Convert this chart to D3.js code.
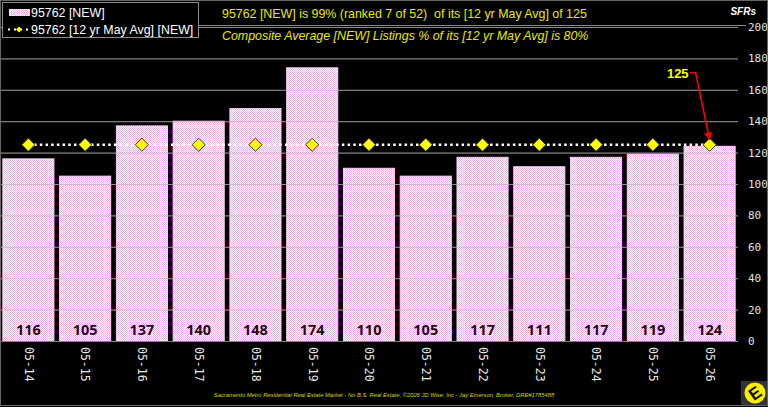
<!DOCTYPE html>
<html>
<head>
<meta charset="utf-8">
<script src="https://cdn.jsdelivr.net/npm/d3@7"></script>
<style>
  body { margin: 0; background: #000; }
  svg { display: block; }
</style>
</head>
<body>
<div id="chart"></div>
<script>
// data
const years = ["05-14", "05-15", "05-16", "05-17", "05-18", "05-19", "05-20",
               "05-21", "05-22", "05-23", "05-24", "05-25", "05-26"];
const listings = [116, 105, 137, 140, 148, 174, 110, 105, 117, 111, 117, 119, 124];
const avgValue = 125;
const yTicks = [0, 20, 40, 60, 80, 100, 120, 140, 160, 180, 200];

const titleText = "95762 [NEW] is 99% (ranked 7 of 52)  of its [12 yr May Avg] of 125";
const subText = "Composite Average [NEW] Listings % of its [12 yr May Avg] is 80%";
const footerText = "Sacramento Metro Residential Real Estate Market - No B.S. Real Estate, \u00A92026 JD Wise, Inc - Jay Emerson, Broker, DRE#1785488";

const W = 768, H = 407;
const svg = d3.select("#chart").append("svg")
    .attr("width", W).attr("height", H);

svg.append("rect").attr("width", W).attr("height", H).attr("fill", "#000");

// checkered pink fill
const defs = svg.append("defs");
const pat = defs.append("pattern")
    .attr("id", "pink").attr("width", 2).attr("height", 2)
    .attr("patternUnits", "userSpaceOnUse");
pat.append("rect").attr("width", 2).attr("height", 2).attr("fill", "#ffffff");
pat.append("rect").attr("width", 1).attr("height", 1).attr("fill", "#f0aef0");
pat.append("rect").attr("x", 1).attr("y", 1).attr("width", 1).attr("height", 1).attr("fill", "#f0aef0");

// scales
const x = d3.scaleBand().domain(years).range([0, 738])
    .paddingInner(0.1).paddingOuter(0.05);
const y = d3.scaleLinear().domain([0, 200]).range([341, 27]);

// grid under bars
svg.append("g").selectAll("line")
    .data(yTicks.slice(1))
    .join("line")
    .attr("x1", 0).attr("x2", 738)
    .attr("y1", d => y(d) + 0.5).attr("y2", d => y(d) + 0.5)
    .attr("stroke", "#808080").attr("stroke-width", 1);

// bars
svg.append("g").selectAll("rect")
    .data(listings)
    .join("rect")
    .attr("x", (d, i) => x(years[i]))
    .attr("width", x.bandwidth())
    .attr("y", d => y(d))
    .attr("height", d => y(0) - y(d))
    .attr("fill", "url(#pink)")
    .attr("stroke", "#f5d0f5").attr("stroke-width", 1);

// faint grid over bars
svg.append("g").selectAll("line")
    .data(yTicks.slice(1))
    .join("line")
    .attr("x1", 0).attr("x2", 738)
    .attr("y1", d => y(d) + 0.5).attr("y2", d => y(d) + 0.5)
    .attr("stroke", "#999").attr("stroke-opacity", 0.45);

// baseline
svg.append("line").attr("x1", 0).attr("x2", 738)
    .attr("y1", y(0) + 0.5).attr("y2", y(0) + 0.5)
    .attr("stroke", "#808080");

// bar value labels
svg.append("g").selectAll("text")
    .data(listings)
    .join("text")
    .attr("x", (d, i) => x(years[i]) + x.bandwidth() / 2)
    .attr("y", 335)
    .attr("text-anchor", "middle")
    .style("font-family", "'Open Sans', 'Liberation Sans', sans-serif")
    .style("font-weight", "bold")
    .style("font-size", "14.5px")
    .attr("fill", "#111")
    .text(d => d);

// right axis
const yAxis = svg.append("g")
    .attr("transform", "translate(738,0)")
    .call(d3.axisRight(y).tickValues(yTicks).tickSize(0).tickPadding(10));
yAxis.select(".domain").remove();
yAxis.selectAll("text")
    .attr("fill", "#e0e0e0")
    .style("font-family", "'DejaVu Sans Mono', monospace")
    .style("font-size", "11px");

// bottom axis, labels rotated
const xAxis = svg.append("g")
    .attr("transform", `translate(0,${y(0)})`)
    .call(d3.axisBottom(x).tickSize(0));
xAxis.select(".domain").remove();
xAxis.selectAll("text")
    .attr("fill", "#e8e8e8")
    .style("font-family", "'DejaVu Sans Mono', monospace")
    .style("font-size", "11.5px")
    .attr("text-anchor", "start")
    .attr("transform", "rotate(90)")
    .attr("x", 6).attr("y", 0).attr("dy", "0.32em");

// average dotted line + diamonds
const cx = i => x(years[i]) + x.bandwidth() / 2;
svg.append("line")
    .attr("x1", cx(0)).attr("x2", cx(years.length - 1))
    .attr("y1", y(avgValue)).attr("y2", y(avgValue))
    .attr("stroke", "#fff").attr("stroke-width", 2.5)
    .attr("stroke-dasharray", "2.5 3.2");

const diamond = d3.symbol().type(d3.symbolDiamond2).size(110);
svg.append("g").selectAll("path")
    .data(years)
    .join("path")
    .attr("transform", (d, i) => `translate(${cx(i)},${y(avgValue)})`)
    .attr("d", diamond)
    .attr("fill", "#ffff00")
    .attr("stroke", "#333").attr("stroke-width", 1);

// annotation for last average point
const lastX = cx(years.length - 1);
defs.append("marker")
    .attr("id", "arrow").attr("viewBox", "0 0 10 10")
    .attr("refX", 9).attr("refY", 5)
    .attr("markerWidth", 5).attr("markerHeight", 5)
    .attr("orient", "auto")
    .append("path").attr("d", "M0,0L10,5L0,10z").attr("fill", "#ff0000");
svg.append("path")
    .attr("d", `M${lastX - 20},${y(avgValue) - 72}L${lastX - 14},${y(avgValue) - 72}L${lastX},${y(avgValue) - 5}`)
    .attr("fill", "none").attr("stroke", "#ff0000").attr("stroke-width", 1.6)
    .attr("marker-end", "url(#arrow)");
svg.append("text")
    .attr("x", lastX - 21).attr("y", y(avgValue) - 67)
    .attr("text-anchor", "end")
    .style("font-family", "'Liberation Sans', Arial, sans-serif")
    .style("font-weight", "bold").style("font-size", "13px")
    .attr("fill", "#ffff00")
    .text(avgValue);

// legend box
const leg = svg.append("g");
leg.append("rect").attr("x", 2.5).attr("y", 2.5).attr("width", 196).attr("height", 35)
    .attr("fill", "#000").attr("stroke", "#8a8a8a");
leg.append("rect").attr("x", 9).attr("y", 9).attr("width", 21).attr("height", 7)
    .attr("fill", "url(#pink)");
leg.append("line").attr("x1", 8).attr("x2", 31).attr("y1", 29.5).attr("y2", 29.5)
    .attr("stroke", "#fff").attr("stroke-width", 2).attr("stroke-dasharray", "2 4");
leg.append("path").attr("transform", "translate(19,29.5)")
    .attr("d", d3.symbol().type(d3.symbolDiamond2).size(22))
    .attr("fill", "#ffff00");
leg.selectAll("text.lg")
    .data(["95762 [NEW]", "95762 [12 yr May Avg] [NEW]"])
    .join("text")
    .attr("x", 31).attr("y", (d, i) => 17 + i * 17)
    .attr("fill", "#fff")
    .style("font-family", "'Liberation Sans', Arial, sans-serif")
    .style("font-size", "12.4px")
    .text(d => d);

// title lines
svg.append("line").attr("x1", 199).attr("x2", 746).attr("y1", 25.5).attr("y2", 25.5)
    .attr("stroke", "#8a8a8a");
svg.append("text").attr("x", 222).attr("y", 18)
    .attr("fill", "#e8e800")
    .style("font-family", "'Liberation Sans', Arial, sans-serif")
    .style("font-size", "12.4px")
    .style("white-space", "pre")
    .text(titleText);
svg.append("text").attr("x", 222).attr("y", 40)
    .attr("fill", "#e8e800")
    .style("font-family", "'Liberation Sans', Arial, sans-serif")
    .style("font-size", "12.4px").style("font-style", "italic")
    .text(subText);
svg.append("text").attr("x", 756).attr("y", 15)
    .attr("text-anchor", "end")
    .attr("fill", "#fff")
    .style("font-family", "'Liberation Sans', Arial, sans-serif")
    .style("font-size", "10px").style("font-weight", "bold").style("font-style", "italic")
    .text("SFRs");

// footer
svg.append("text").attr("x", 384).attr("y", 397)
    .attr("text-anchor", "middle")
    .attr("fill", "#d4d400")
    .style("font-family", "'Liberation Sans', Arial, sans-serif")
    .style("font-size", "5.8px").style("font-style", "italic")
    .text(footerText);

// logo
svg.append("rect").attr("x", 741).attr("y", 381).attr("width", 27).attr("height", 24)
    .attr("fill", "#333");
const logo = svg.append("g").attr("transform", "translate(755,393)");
logo.append("circle").attr("r", 10.5).attr("fill", "#ffee00");
logo.append("text").attr("y", 6).attr("text-anchor", "middle")
    .attr("transform", "rotate(-35)")
    .style("font-family", "'Liberation Sans', Arial, sans-serif")
    .style("font-weight", "bold").style("font-size", "17px")
    .attr("fill", "#111").text("E");

// outer border
svg.append("rect").attr("x", 0.5).attr("y", 0.5).attr("width", W - 1).attr("height", 405)
    .attr("fill", "none").attr("stroke", "#666");
</script>
</body>
</html>
